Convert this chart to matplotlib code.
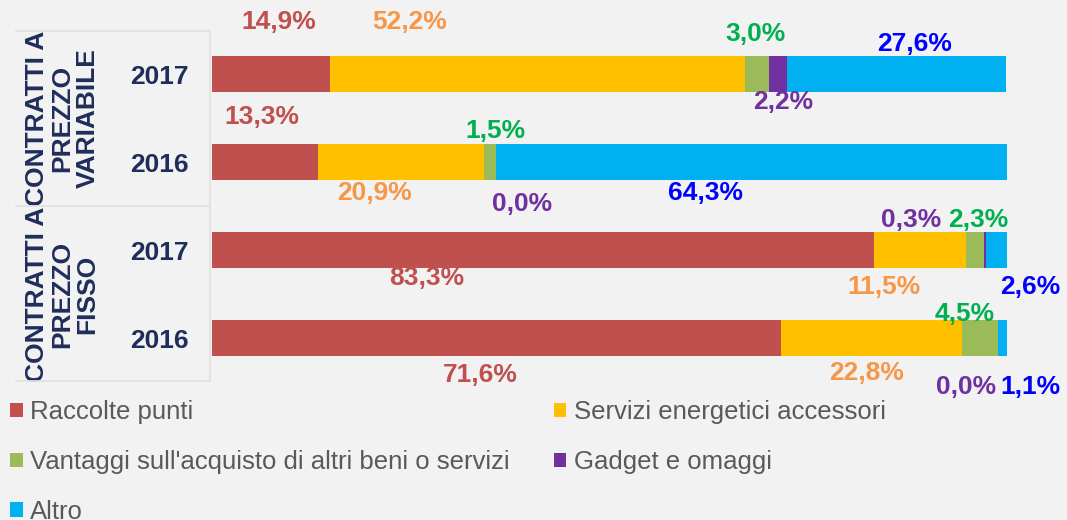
import matplotlib
matplotlib.use("Agg")
import matplotlib.pyplot as plt
from matplotlib.lines import Line2D
import numpy as np

plt.rcParams['font.family'] = ['Liberation Sans', 'DejaVu Sans']

# ---- data ----
years = ["2017", "2016", "2017", "2016"]
groups = ["CONTRATTI A\nPREZZO\nVARIABILE", "CONTRATTI A\nPREZZO\nFISSO"]
series = ["Raccolte punti", "Servizi energetici accessori",
          "Vantaggi sull'acquisto di altri beni o servizi", "Gadget e omaggi", "Altro"]
raccolte = [14.9, 13.3, 83.3, 71.6]
servizi = [52.2, 20.9, 11.5, 22.8]
vantaggi = [3.0, 1.5, 2.3, 4.5]
gadget = [2.2, 0.0, 0.3, 0.0]
altro = [27.6, 64.3, 2.6, 1.1]

# ---- styles ----
bar_colors = ["#C0504D", "#FFC000", "#9BBB59", "#7030A0", "#00B0F0"]
text_colors = ["#C0504D", "#F79646", "#00B050", "#7030A0", "#0000FF"]
navy = "#1F2D5A"
# label placement (x in %, dy in bar-slot units, negative = above)
label_x = [
    [8.4, 24.9, 68.4, 71.8, 88.4],
    [6.3, 20.4, 35.7, 39.0, 62.1],
    [27.0, 84.5, 96.4, 87.9, 102.9],
    [33.7, 82.3, 94.7, 94.8, 102.9],
]
label_dy = [
    [-0.59, -0.59, -0.45, 0.32, -0.34],
    [-0.51, 0.35, -0.35, 0.48, 0.35],
    [0.32, 0.42, -0.34, -0.34, 0.42],
    [0.42, 0.40, -0.27, 0.56, 0.56],
]

fig = plt.figure(figsize=(10.67, 5.2), dpi=100, facecolor="#F2F2F2")
ax = fig.add_axes([212/1067, 1-382/520, 795/1067, 352/520])
ax.set_facecolor("#F2F2F2")

data = np.array([raccolte, servizi, vantaggi, gadget, altro])
ypos = np.arange(len(years))
left = np.zeros(len(years))
handles = []
for i, name in enumerate(series):
    h = ax.barh(ypos, data[i], left=left, height=0.4, color=bar_colors[i],
                label=name, edgecolor="none")
    handles.append(h)
    for j in range(len(years)):
        ax.text(label_x[j][i], ypos[j] + label_dy[j][i],
                f"{data[i][j]:.1f}%".replace(".", ","),
                color=text_colors[i], fontsize=19, fontweight="bold",
                ha="center", va="center", clip_on=False)
    left += data[i]

ax.set_xlim(0, 100)
ax.set_ylim(3.5, -0.5)
ax.set_yticks(ypos)
ax.set_yticklabels(years, fontsize=19, fontweight="bold", color=navy)
ax.tick_params(axis="y", length=0, pad=17)
ax.set_xticks([])
for s in ax.spines.values():
    s.set_visible(False)

# group labels
trans = matplotlib.transforms.blended_transform_factory(fig.transFigure, ax.transData)
for g, yc in zip(groups, [0.5, 2.5]):
    ax.text(62/1067, yc, g, transform=trans, rotation=90, ha="center", va="center",
            fontsize=19, fontweight="bold", color=navy, linespacing=1.07, clip_on=False)

# category table lines
lc = "#E2E2E2"
def fline(x0, y0, x1, y1):
    fig.add_artist(Line2D([x0/1067, x1/1067], [1-y0/520, 1-y1/520], color=lc, lw=1.3))
fline(16, 31, 210, 31)
fline(16, 206, 210, 206)
fline(16, 381, 210, 381)
fline(210, 31, 210, 381)

# legend (row-wise order)
order = [0, 2, 4, 1, 3]
leg = fig.legend([handles[k] for k in order], [series[k] for k in order],
                 ncol=2, loc="upper left", bbox_to_anchor=(0/1067, 1-390/520),
                 frameon=False, fontsize=18.5, labelcolor="#595959",
                 handlelength=0.5, handleheight=0.5, handletextpad=0.28,
                 columnspacing=1.7, labelspacing=1.0, borderaxespad=0)

fig.savefig("out.png", dpi=100, facecolor=fig.get_facecolor())
